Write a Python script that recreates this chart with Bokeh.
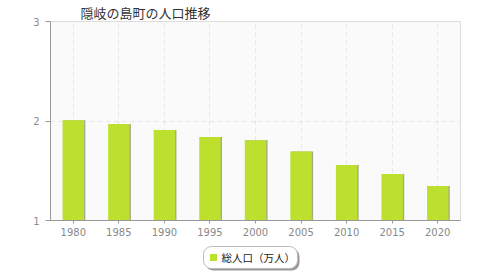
from bokeh.plotting import figure
from bokeh.models import Range1d, FixedTicker
from bokeh.layouts import column
from bokeh.core.properties import value
from bokeh.embed import file_html
from bokeh.resources import INLINE

years = ["1980", "1985", "1990", "1995", "2000", "2005", "2010", "2015", "2020"]
population = [2.007, 1.97, 1.91, 1.84, 1.807, 1.693, 1.557, 1.467, 1.347]
y_ticks = [1, 2, 3]
title_text = "隠岐の島町の人口推移"
legend_text = "総人口（万人）"
bar_color = "#bde02f"

xs = list(range(len(years)))

p = figure(width=480, height=240, output_backend="svg", toolbar_location=None,
           x_range=Range1d(-0.5, len(years) - 0.5), y_range=Range1d(1, 3),
           min_border_left=50, min_border_right=20, min_border_top=20, min_border_bottom=20,
           title=title_text)
p.title.text_font = "Noto Sans CJK JP"
p.title.text_font_size = "13px"
p.title.text_font_style = "normal"
p.title.text_color = "#333333"
p.title.offset = 30
p.title.standoff = 0
p.background_fill_color = "#fafafa"
p.border_fill_color = "white"
p.outline_line_color = "#dddddd"

# bar shadow
p.vbar(x=[x + 0.025 for x in xs], top=population, bottom=1, width=0.48,
       fill_color="#a4ad84", line_color=None)
p.vbar(x=xs, top=population, bottom=1, width=0.47,
       fill_color=bar_color, line_color=None)

p.xaxis.ticker = FixedTicker(ticks=xs)
p.xaxis.major_label_overrides = {i: y for i, y in enumerate(years)}
p.yaxis.ticker = FixedTicker(ticks=y_ticks)
for ax in (p.xaxis, p.yaxis):
    ax.axis_line_color = "#999999"
    ax.major_tick_line_color = "#999999"
    ax.minor_tick_line_color = None
    ax.major_label_text_color = "#8a8a8a"
    ax.major_label_text_font = "DejaVu Sans"
    ax.major_label_text_font_size = "10px"
p.xaxis.major_tick_in = 0
p.xaxis.major_tick_out = 3
p.yaxis.major_tick_in = 0
p.yaxis.major_tick_out = 5
p.xaxis.major_label_standoff = 4
p.yaxis.major_label_standoff = 6

p.xgrid.grid_line_color = "#e4e4e4"
p.xgrid.grid_line_dash = "4 4"
p.ygrid.grid_line_color = "#e4e4e4"
p.ygrid.grid_line_dash = "4 4"

# legend strip (coordinates are page pixels: frame spans x 50..460)
lg = figure(width=480, height=40, output_backend="svg", toolbar_location=None,
            x_range=Range1d(50, 460), y_range=Range1d(40, 0),
            min_border_left=50, min_border_right=20, min_border_top=0, min_border_bottom=0,
            x_axis_location=None, y_axis_location=None)
lg.grid.visible = False
lg.outline_line_color = None
lg.background_fill_color = "white"
lg.border_fill_color = "white"
lg.quad(left=[205], right=[299], top=[8], bottom=[30], border_radius=8,
        fill_color="#999999", line_color=None)
lg.quad(left=[203], right=[297], top=[6], bottom=[28], border_radius=8,
        fill_color="white", line_color="#bbbbbb")
lg.scatter(x=[213], y=[17], marker="square", size=7, fill_color=bar_color, line_color=None)
lg.text(x=[221], y=[17], text=[legend_text], text_font=value("Noto Sans CJK JP"),
        text_font_size="10.5px", text_baseline="middle", text_color="#222222")

layout = column(p, lg, spacing=0)
open("out.html", "w").write(file_html(layout, INLINE))
